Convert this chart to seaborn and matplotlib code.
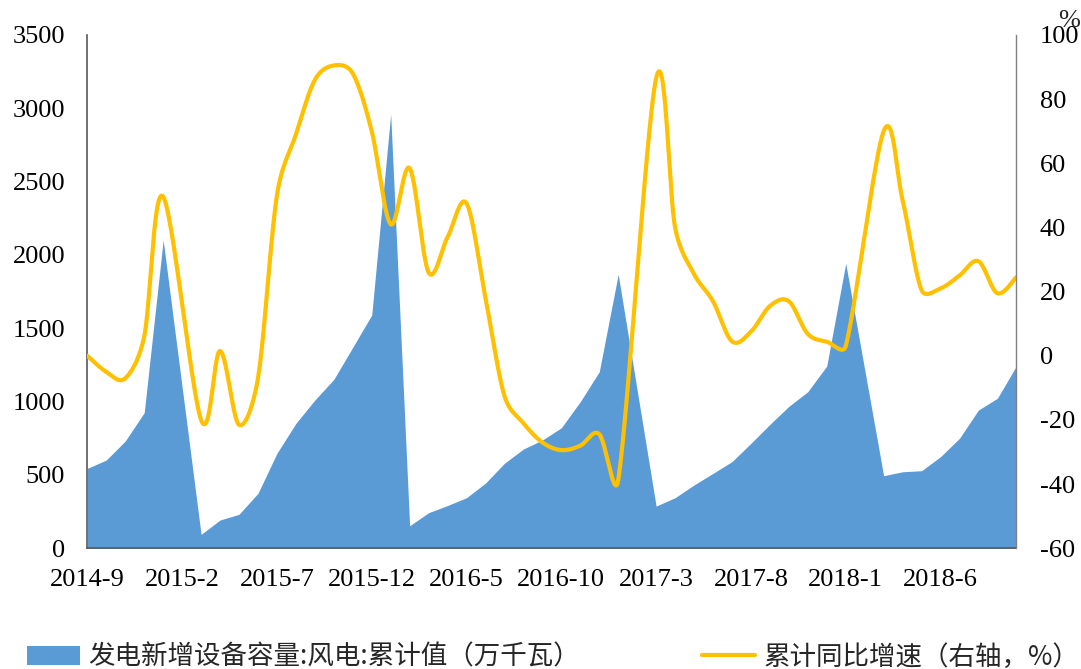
import numpy as np
import matplotlib
matplotlib.use("Agg")
import matplotlib.pyplot as plt
import seaborn as sns
from matplotlib.patches import Patch
from matplotlib.lines import Line2D
from matplotlib.font_manager import FontProperties

# ---------------- data ----------------
tick_labels = ["2014-9", "2015-2", "2015-7", "2015-12", "2016-5",
               "2016-10", "2017-3", "2017-8", "2018-1", "2018-6"]
tick_step = 5
n_months = 50

# 发电新增设备容量:风电:累计值（万千瓦）, None = month not published
capacity = [545, 602, 732, 925, 2102, None, 95, 193, 232, 375,
            648, 852, 1011, 1152, 1371, 1591, 2961, 154, 243, 292,
            345, 445, 580, 677, 738, 822, 1000, 1204, 1868, None,
            288, 345, 432, 511, 591, 716, 845, 968, 1068, 1243,
            1943, None, 495, 522, 529, 625, 750, 943, 1023, 1243]

# 累计同比增速（右轴，%）
growth = [0, -5, -7, 6, 49.6, None, -20, 1.5, -21.5, -7,
          50, 69, 86, 90.5, 88, 70, 41, 58.5, 26, 37,
          47.5, 18, -12.5, -21, -27, -29.4, -28, -24.4, -38.7, None,
          86.5, 40, 25.5, 17, 4.5, 7.5, 15.5, 17, 6.8, 4.4,
          3, None, 70, 48.5, 20.5, 21, 25, 29.5, 19.5, 24.5]

label_area = "发电新增设备容量:风电:累计值（万千瓦）"
label_line = "累计同比增速（右轴，%）"

AREA_COLOR = "#5B9BD5"
LINE_COLOR = "#FFC000"


def smooth_curve(xs, ys, yscale, steps=30, clamp=0.5):
    """Excel-like smoothed line: Catmull-Rom Bezier segments, with control
    arms limited relative to the adjacent segment to avoid big overshoot."""
    P = np.column_stack([np.asarray(xs, float), np.asarray(ys, float) * yscale])
    n = len(P)
    E = np.vstack([P[0], P, P[-1]])
    seglen = np.linalg.norm(np.diff(P, axis=0), axis=1)
    tang = np.array([(E[i + 2] - E[i]) / 6.0 for i in range(n)])
    segs = []
    t = np.linspace(0, 1, steps, endpoint=False)[:, None]
    for i in range(n - 1):
        p1, p2 = P[i], P[i + 1]
        L = seglen[i]
        a1, a2 = tang[i], tang[i + 1]
        m1, m2 = np.linalg.norm(a1), np.linalg.norm(a2)
        if m1 > clamp * L and m1 > 0:
            a1 = a1 * (clamp * L / m1)
        if m2 > clamp * L and m2 > 0:
            a2 = a2 * (clamp * L / m2)
        c1 = p1 + a1
        c2 = p2 - a2
        seg = ((1 - t) ** 3) * p1 + 3 * ((1 - t) ** 2) * t * c1 \
            + 3 * (1 - t) * (t ** 2) * c2 + (t ** 3) * p2
        segs.append(seg)
    segs.append(P[-1][None, :])
    C = np.vstack(segs)
    return C[:, 0], C[:, 1] / yscale


# ---------------- figure ----------------
sns.set_theme(style="white")
plt.rcParams["font.family"] = ["Liberation Serif", "Noto Sans CJK SC", "DejaVu Sans"]
plt.rcParams["axes.unicode_minus"] = False

fig = plt.figure(figsize=(10.81, 6.69), dpi=100)
ax = fig.add_axes([0.0808, 0.1804, 0.8594, 0.7673])
ax2 = ax.twinx()

idx = np.arange(n_months)
cap_x = [i for i, v in zip(idx, capacity) if v is not None]
cap_y = [v for v in capacity if v is not None]
ax.fill_between(cap_x, 0, cap_y, color=AREA_COLOR, linewidth=0, zorder=1)

gr_x = [i for i, v in zip(idx, growth) if v is not None]
gr_y = [v for v in growth if v is not None]
# pixel aspect: 18.96 px per month, 3.208 px per percent
sx, sy = smooth_curve(gr_x, gr_y, yscale=3.208 / 18.96)
sns.lineplot(x=sx, y=sy, sort=False, estimator=None, ax=ax2,
             color=LINE_COLOR, linewidth=3.0, legend=False)

ax.set_xlim(0, n_months - 1)
ax.set_ylim(0, 3500)
ax.set_yticks(np.arange(0, 3501, 500))
ax2.set_ylim(-60, 100)
ax2.set_yticks(np.arange(-60, 101, 20))
ax.set_xticks(np.arange(0, n_months, tick_step)[:len(tick_labels)])
ax.set_xticklabels(tick_labels)
ax.set_xlabel("")
ax.set_ylabel("")
ax2.set_xlabel("")
ax2.set_ylabel("")

ax.tick_params(axis="x", length=0, pad=15, labelsize=19, colors="#000000")
ax.tick_params(axis="y", length=0, pad=16, labelsize=19, colors="#000000")
ax2.tick_params(axis="y", length=0, pad=17, labelsize=19, colors="#000000")

for a in (ax, ax2):
    a.grid(False)
    a.spines["top"].set_visible(False)
    a.set_facecolor("none")
ax.spines["left"].set_color("#595959")
ax.spines["left"].set_linewidth(1.2)
ax.spines["bottom"].set_color("#595959")
ax.spines["bottom"].set_linewidth(1.2)
ax.spines["right"].set_visible(False)
ax2.spines["left"].set_visible(False)
ax2.spines["bottom"].set_visible(False)
ax2.spines["right"].set_color("#7F7F7F")
ax2.spines["right"].set_linewidth(1.0)

fig.text(1069 / 1081, 1 - 21 / 669, "%", ha="center", va="center",
         fontsize=19, family="Liberation Serif")

handles = [Patch(facecolor=AREA_COLOR, edgecolor="none"),
           Line2D([0], [0], color=LINE_COLOR, linewidth=3.0)]
leg_font = FontProperties(family=["Noto Sans CJK SC", "DejaVu Sans"], size=19.1)
fig.legend(handles, [label_area, label_line], loc="center left",
           bbox_to_anchor=(27 / 1081, 1 - 657 / 669), ncol=2, frameon=False,
           prop=leg_font, handlelength=2.0, handleheight=0.75,
           handletextpad=0.3, columnspacing=4.62, borderpad=0, borderaxespad=0)

fig.savefig("out.png", dpi=100)
